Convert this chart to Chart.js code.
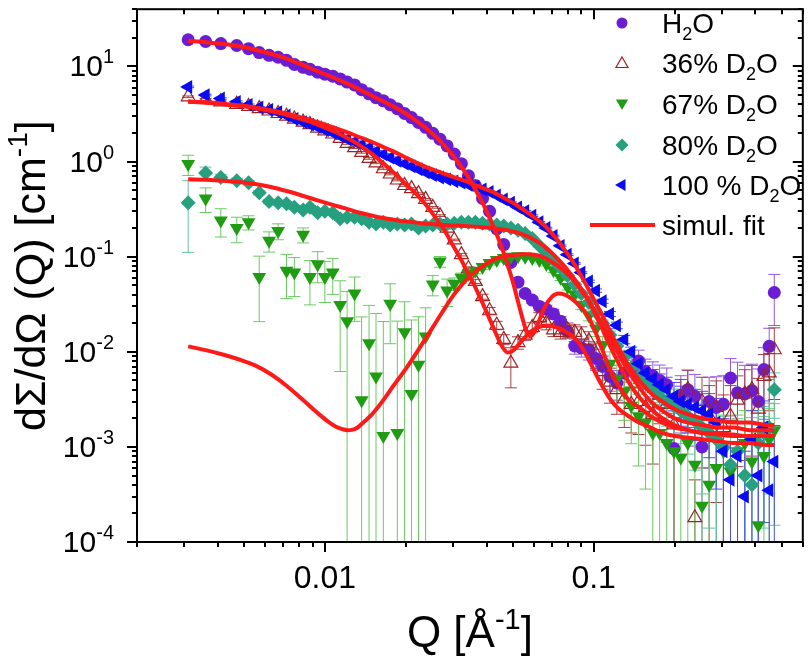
<!DOCTYPE html>
<html>
<head>
<meta charset="utf-8">
<script src="https://cdn.jsdelivr.net/npm/chart.js@4.4.1/dist/chart.umd.min.js"></script>
<style>
  html, body { margin: 0; padding: 0; background: #fff; }
  canvas { display: block; }
</style>
</head>
<body>
<canvas id="sansChart" width="812" height="659"></canvas>
<script>
// measured Q grid [1/A]
const qData = [0.0031, 0.0036, 0.0041, 0.0047, 0.0052, 0.0057, 0.0062, 0.0067, 0.0072, 0.0077,
  0.0083, 0.0088, 0.0094, 0.0100, 0.0107, 0.0114, 0.0121, 0.0129, 0.0137, 0.0146,
  0.0155, 0.0165, 0.0175, 0.0186, 0.0198, 0.0210, 0.0223, 0.0237, 0.0252, 0.0268,
  0.0285, 0.0303, 0.0322, 0.0342, 0.0363, 0.0386, 0.0410, 0.0436, 0.0463, 0.0492,
  0.0523, 0.0556, 0.0591, 0.0628, 0.0667, 0.0709, 0.0753, 0.0800, 0.085, 0.090,
  0.096, 0.102, 0.108, 0.115, 0.122, 0.130, 0.138, 0.147, 0.156, 0.166,
  0.176, 0.187, 0.199, 0.211, 0.224, 0.238, 0.253, 0.269, 0.286, 0.304,
  0.323, 0.343, 0.365, 0.388, 0.41, 0.43, 0.45, 0.47];

const h2o = [19.1, 18.3, 17.4, 16.6, 15.4, 14.0, 13.1, 12.5, 11.6, 10.5,
  9.8, 9.35, 8.7, 8.3, 7.9, 7.4, 6.85, 6.4, 5.7, 5.15,
  4.7, 4.35, 3.96, 3.6, 3.2, 2.9, 2.58, 2.29, 1.98, 1.72,
  1.46, 1.20, 0.95, 0.71, 0.56, 0.41, 0.30, 0.196, 0.134, 0.087,
  0.054, 0.041, 0.035, 0.030, 0.028, 0.025, 0.021, 0.0164, 0.0115, 0.0110,
  0.0105, 0.0085, 0.0070, 0.0055, 0.0047, 0.0060, 0.0065, 0.0080, 0.0062, 0.0056,
  0.0050, 0.0045, 0.00096, 0.0035, 0.0040, 0.0034, 0.0010, 0.0030, 0.0026, 0.0028,
  0.0053, 0.0037, 0.0036, 0.0039, 0.0030, 0.0065, 0.0114, 0.042];

const d2o36 = [4.8, 4.5, 4.25, 4.0, 3.8, 3.6, 3.4, 3.2, 3.0, 2.8,
  2.6, 2.45, 2.25, 2.1, 1.95, 1.75, 1.55, 1.40, 1.25, 1.08,
  0.97, 0.84, 0.74, 0.64, 0.56, 0.52, 0.46, 0.40, 0.33, 0.27,
  0.20, 0.15, 0.105, 0.075, 0.055, 0.038, 0.027, 0.019, 0.0135, 0.0076,
  0.0125, 0.0150, 0.018, 0.023, 0.020, 0.017, 0.016, 0.017, 0.016, 0.015,
  0.013, 0.0095, 0.0062, 0.0048, 0.0040, 0.0032, 0.0028, 0.0030, 0.0026, 0.0022,
  0.0035, 0.0028, 0.0017, 0.0032, 0.0040, 0.00018, 0.0030, 0.0021, 0.0026, 0.0016,
  0.0021, 0.0031, 0.0036, 0.0040, 0.0025, 0.0055, 0.0060, 0.0105];

const d2o67 = [0.94, 0.41, 0.24, 0.20, 0.23, 0.061, 0.147, 0.186, 0.071, 0.068,
  0.17, 0.061, 0.083, 0.061, 0.068, 0.031, 0.021, 0.041, 0.0031, 0.0123,
  0.0055, 0.0013, 0.032, 0.0014, 0.016, 0.0036, 0.0073, 0.0145, 0.051, 0.089,
  0.044, 0.052, 0.060, 0.066, 0.071, 0.078, 0.086, 0.092, 0.097, 0.100,
  0.101, 0.100, 0.097, 0.092, 0.084, 0.072, 0.060, 0.048, 0.040, 0.031,
  0.024, 0.0175, 0.0118, 0.0075, 0.0052, 0.0038, 0.0027, 0.0021, 0.0018, 0.0014,
  0.0014, 0.0011, 0.0009, 0.00077, 0.0011, 0.00065, 0.00024, 0.0004, 0.0006, 0.0009,
  0.00055, 0.0009, 0.0011, 0.0007, 0.00015, 0.0008, 0.0012, 0.0015];

const d2o80 = [0.37, 0.76, 0.68, 0.63, 0.60, 0.47, 0.38, 0.37, 0.36, 0.33,
  0.31, 0.33, 0.29, 0.30, 0.29, 0.25, 0.26, 0.26, 0.25, 0.23,
  0.22, 0.23, 0.215, 0.22, 0.215, 0.22, 0.20, 0.21, 0.215, 0.22,
  0.22, 0.225, 0.23, 0.23, 0.23, 0.225, 0.22, 0.215, 0.21, 0.20,
  0.19, 0.175, 0.155, 0.13, 0.11, 0.092, 0.077, 0.063, 0.051, 0.041,
  0.033, 0.026, 0.020, 0.015, 0.0115, 0.0088, 0.0068, 0.0055, 0.0046, 0.0040,
  0.0034, 0.0030, 0.0027, 0.0024, 0.0021, 0.0019, 0.0016, 0.0014, 0.0012, 0.0010,
  0.00065, 0.0009, 0.0005, 0.0004, 0.0011, 0.0014, 0.0016, 0.0040];

const d2o100 = [6.1, 5.0, 4.6, 4.25, 3.95, 3.7, 3.5, 3.3, 3.05, 2.8,
  2.6, 2.45, 2.3, 2.15, 2.0, 1.85, 1.72, 1.62, 1.50, 1.40,
  1.28, 1.19, 1.10, 1.02, 0.95, 0.89, 0.83, 0.77, 0.72, 0.68,
  0.65, 0.62, 0.60, 0.57, 0.54, 0.51, 0.48, 0.44, 0.40, 0.37,
  0.33, 0.30, 0.27, 0.23, 0.20, 0.165, 0.13, 0.105, 0.085, 0.068,
  0.055, 0.044, 0.034, 0.025, 0.019, 0.0135, 0.0100, 0.0075, 0.0060, 0.0052,
  0.0045, 0.0040, 0.0034, 0.0030, 0.0028, 0.0026, 0.0024, 0.0022, 0.0018, 0.0009,
  0.00045, 0.0008, 0.00030, 0.0012, 0.0005, 0.0016, 0.00035, 0.0007];

// relative error bars (fraction of value)
const h2oErr = [0.02, 0.02, 0.02, 0.02, 0.02, 0.02, 0.02, 0.02, 0.02, 0.02,
  0.02, 0.02, 0.02, 0.02, 0.02, 0.02, 0.02, 0.02, 0.02, 0.02,
  0.02, 0.02, 0.02, 0.02, 0.02, 0.02, 0.02, 0.02, 0.02, 0.02,
  0.02, 0.02, 0.02, 0.02, 0.02, 0.02, 0.02, 0.02, 0.02, 0.02,
  0.03, 0.06, 0.08, 0.10, 0.10, 0.12, 0.12, 0.15, 0.18, 0.20,
  0.22, 0.25, 0.28, 0.30, 0.35, 0.35, 0.35, 0.30, 0.35, 0.40,
  0.45, 0.50, 1.5, 0.6, 0.6, 0.7, 1.8, 0.8, 1.1, 1.0,
  0.6, 1.1, 1.0, 0.9, 1.2, 0.7, 0.55, 0.55];

const d2o36Err = [0.02, 0.02, 0.02, 0.02, 0.02, 0.02, 0.02, 0.02, 0.02, 0.02,
  0.02, 0.02, 0.02, 0.02, 0.02, 0.02, 0.02, 0.02, 0.02, 0.02,
  0.02, 0.02, 0.02, 0.02, 0.02, 0.02, 0.02, 0.02, 0.02, 0.02,
  0.02, 0.02, 0.03, 0.04, 0.05, 0.06, 0.08, 0.10, 0.12, 0.45,
  0.15, 0.12, 0.12, 0.12, 0.15, 0.15, 0.15, 0.18, 0.20, 0.22,
  0.25, 0.30, 0.35, 0.40, 0.45, 0.50, 0.50, 0.55, 0.60, 0.70,
  0.5, 0.6, 1.0, 0.6, 0.6, 1.5, 0.8, 1.1, 0.9, 1.2,
  1.1, 0.8, 0.8, 0.8, 1.1, 0.7, 0.6, 0.7];

const d2o67Err = [0.24, 0.29, 0.33, 0.30, 0.17, 0.66, 0.24, 0.19, 0.49, 0.44,
  0.18, 0.49, 0.36, 0.46, 0.41, 0.80, 1.05, 0.49, 6.5, 1.5,
  3.6, 15, 0.62, 14, 1.1, 5.0, 2.2, 1.0, 0.24, 0.13,
  0.32, 0.15, 0.12, 0.09, 0.07, 0.064, 0.05, 0.045, 0.04, 0.04,
  0.04, 0.04, 0.04, 0.045, 0.05, 0.055, 0.065, 0.07, 0.08, 0.1,
  0.12, 0.17, 0.22, 0.33, 0.4, 0.5, 0.6, 0.7, 0.8, 1.0,
  1.1, 1.3, 1.6, 1.9, 1.3, 2.1, 5.5, 3.2, 2.1, 1.4,
  2.4, 1.4, 1.2, 1.9, 8.5, 1.6, 1.1, 0.9];

const d2o80Err = [0.70, 0.15, 0.08, 0.06, 0.05, 0.05, 0.05, 0.05, 0.05, 0.05,
  0.04, 0.04, 0.04, 0.04, 0.04, 0.04, 0.04, 0.04, 0.04, 0.04,
  0.04, 0.04, 0.04, 0.04, 0.04, 0.04, 0.04, 0.04, 0.04, 0.04,
  0.04, 0.04, 0.04, 0.04, 0.04, 0.04, 0.04, 0.04, 0.04, 0.04,
  0.04, 0.04, 0.04, 0.04, 0.04, 0.04, 0.04, 0.04, 0.04, 0.04,
  0.05, 0.06, 0.08, 0.10, 0.12, 0.15, 0.20, 0.25, 0.30, 0.35,
  0.40, 0.45, 0.50, 0.55, 0.60, 0.70, 0.80, 0.90, 1.0, 1.1,
  1.5, 1.2, 1.6, 2.0, 1.2, 0.9, 0.8, 0.5];

const d2o100Err = [0.02, 0.02, 0.02, 0.02, 0.02, 0.02, 0.02, 0.02, 0.02, 0.02,
  0.02, 0.02, 0.02, 0.02, 0.02, 0.02, 0.02, 0.02, 0.02, 0.02,
  0.02, 0.02, 0.02, 0.02, 0.02, 0.02, 0.02, 0.02, 0.02, 0.02,
  0.02, 0.02, 0.02, 0.02, 0.02, 0.02, 0.02, 0.02, 0.02, 0.02,
  0.02, 0.02, 0.02, 0.02, 0.02, 0.02, 0.02, 0.02, 0.02, 0.02,
  0.03, 0.04, 0.05, 0.06, 0.08, 0.10, 0.12, 0.15, 0.20, 0.25,
  0.30, 0.35, 0.40, 0.45, 0.50, 0.55, 0.60, 0.65, 0.8, 1.2,
  1.5, 1.2, 2.0, 1.0, 1.6, 0.9, 2.0, 1.4];

// simultaneous fit curves
const qFit = [0.0031, 0.0036, 0.0042, 0.0048, 0.0055, 0.0063, 0.0072, 0.0082, 0.0094, 0.0107,
  0.0120, 0.0135, 0.0150, 0.0165, 0.0180, 0.020, 0.022, 0.024, 0.026, 0.028,
  0.030, 0.032, 0.034, 0.036, 0.038, 0.040, 0.042, 0.044, 0.046, 0.048,
  0.050, 0.052, 0.054, 0.056, 0.058, 0.060, 0.063, 0.066, 0.070, 0.074,
  0.078, 0.083, 0.088, 0.094, 0.100, 0.107, 0.115, 0.124, 0.135, 0.148,
  0.163, 0.180, 0.200, 0.225, 0.255, 0.29, 0.33, 0.38, 0.44, 0.47];

const fitH2o = [18.6, 18.0, 17.2, 16.3, 15.0, 13.6, 12.1, 10.5, 8.9, 7.7,
  6.7, 5.7, 4.9, 4.3, 3.8, 3.2, 2.65, 2.2, 1.8, 1.45,
  1.15, 0.90, 0.70, 0.53, 0.40, 0.30, 0.22, 0.16, 0.115, 0.08,
  0.055, 0.036, 0.024, 0.017, 0.0145, 0.016, 0.022, 0.030, 0.038, 0.041,
  0.040, 0.036, 0.031, 0.025, 0.018, 0.011, 0.0065, 0.0044, 0.0031, 0.0026,
  0.0021, 0.0018, 0.0016, 0.0015, 0.0014, 0.0014, 0.00135, 0.0013, 0.0013, 0.0013];

const fit36 = [4.25, 4.15, 4.0, 3.85, 3.65, 3.4, 3.1, 2.8, 2.45, 2.1,
  1.8, 1.48, 1.2, 0.96, 0.77, 0.58, 0.45, 0.34, 0.25, 0.185,
  0.13, 0.095, 0.068, 0.050, 0.036, 0.026, 0.019, 0.014, 0.0110, 0.0098,
  0.0102, 0.0115, 0.013, 0.0145, 0.016, 0.0172, 0.0183, 0.0188, 0.0185, 0.0177,
  0.0165, 0.0148, 0.0125, 0.0092, 0.0065, 0.0045, 0.0032, 0.0025, 0.0021, 0.0018,
  0.0016, 0.0014, 0.0013, 0.00125, 0.0012, 0.00115, 0.0011, 0.0011, 0.00105, 0.00105];

// the 67% fit has its own, finer grid around its minimum
const qFit67 = [0.0031, 0.0036, 0.0042, 0.0048, 0.0055, 0.0063, 0.0072, 0.0082, 0.0094, 0.0102,
  0.0110, 0.0116, 0.0121, 0.0126, 0.0132, 0.0140, 0.0150, 0.0165, 0.0180, 0.020,
  0.022, 0.024, 0.026, 0.028, 0.030, 0.032, 0.034, 0.036, 0.038, 0.040,
  0.042, 0.044, 0.046, 0.048, 0.050, 0.052, 0.054, 0.056, 0.058, 0.060,
  0.063, 0.066, 0.070, 0.074, 0.078, 0.083, 0.088, 0.094, 0.100, 0.107,
  0.115, 0.124, 0.135, 0.148, 0.163, 0.180, 0.200, 0.225, 0.255, 0.29,
  0.33, 0.38, 0.44, 0.47];

const fit67 = [0.0114, 0.0104, 0.0093, 0.0083, 0.0072, 0.0058, 0.0044, 0.0032, 0.00227, 0.00188,
  0.00163, 0.00154, 0.00150, 0.00151, 0.00159, 0.00184, 0.00221, 0.0031, 0.0044, 0.0066,
  0.0099, 0.0146, 0.0208, 0.029, 0.039, 0.049, 0.059, 0.069, 0.077, 0.085,
  0.092, 0.097, 0.101, 0.103, 0.104, 0.105, 0.106, 0.106, 0.106, 0.105,
  0.102, 0.097, 0.088, 0.079, 0.070, 0.059, 0.048, 0.037, 0.027, 0.018,
  0.0115, 0.0075, 0.0048, 0.0033, 0.0025, 0.0020, 0.0017, 0.0015, 0.0014, 0.00135,
  0.0013, 0.0013, 0.0013, 0.0013];

const fit80 = [0.65, 0.645, 0.63, 0.61, 0.58, 0.54, 0.49, 0.44, 0.39, 0.35,
  0.32, 0.29, 0.27, 0.255, 0.245, 0.235, 0.228, 0.222, 0.218, 0.215,
  0.213, 0.211, 0.209, 0.207, 0.205, 0.203, 0.200, 0.197, 0.193, 0.189,
  0.184, 0.179, 0.173, 0.166, 0.159, 0.151, 0.139, 0.126, 0.109, 0.093,
  0.079, 0.063, 0.050, 0.038, 0.028, 0.020, 0.0138, 0.0094, 0.0062, 0.0042,
  0.0030, 0.0024, 0.0020, 0.0018, 0.0017, 0.0016, 0.0016, 0.0015, 0.0015, 0.0015];

const fit100 = [4.3, 4.2, 4.05, 3.9, 3.7, 3.45, 3.2, 2.9, 2.6, 2.3,
  2.05, 1.8, 1.6, 1.42, 1.28, 1.10, 0.97, 0.87, 0.80, 0.74,
  0.69, 0.65, 0.61, 0.57, 0.54, 0.51, 0.48, 0.45, 0.42, 0.395,
  0.37, 0.345, 0.32, 0.30, 0.28, 0.26, 0.235, 0.21, 0.175, 0.145,
  0.118, 0.092, 0.070, 0.050, 0.036, 0.025, 0.0165, 0.011, 0.0072, 0.0050,
  0.0037, 0.0030, 0.0025, 0.0022, 0.0020, 0.0019, 0.0018, 0.0018, 0.0017, 0.0017];

const xLabelValues = [0.01, 0.1];
const xLabels = ['0.01', '0.1'];
const yExponents = [-4, -3, -2, -1, 0, 1];
const legendNames = ['H_2O', '36% D_2O', '67% D_2O', '80% D_2O', '100 % D_2O', 'simul. fit'];

const FONT = '"Liberation Sans", Arial, Helvetica, sans-serif';
const RED = '#ff1a1a';

const series = [
  { y: h2o, err: h2oErr, color: '#6b1dd3', bar: '#915ae2', style: 'circle', rot: 0, r: 6.5, open: false },
  { y: d2o36, err: d2o36Err, color: '#9c2323', bar: '#a84141', style: 'triangle', rot: 0, r: 8, open: true },
  { y: d2o67, err: d2o67Err, color: '#1f9c12', bar: '#6acb61', style: 'triangle', rot: 180, r: 8, open: false },
  { y: d2o80, err: d2o80Err, color: '#27a07f', bar: '#66c0a6', style: 'rectRot', rot: 0, r: 7.5, open: false },
  { y: d2o100, err: d2o100Err, color: '#0b0bf2', bar: '#4b4bf2', style: 'triangle', rot: 270, r: 8, open: false }
];
const fits = [[qFit, fitH2o], [qFit, fit36], [qFit67, fit67], [qFit, fit80], [qFit, fit100]];

function pts(xs, ys) {
  return xs.map((x, i) => ({ x: x, y: ys[i] }));
}

const datasets = [];
fits.forEach(f => {
  datasets.push({
    data: pts(f[0], f[1]),
    showLine: true,
    pointRadius: 0,
    borderColor: RED,
    borderWidth: 4,
    cubicInterpolationMode: 'monotone',
    order: 0
  });
});
series.forEach((s, i) => {
  datasets.push({
    data: pts(qData, s.y),
    relErr: s.err,
    barColor: s.bar,
    showLine: false,
    pointStyle: s.style,
    rotation: s.rot,
    pointRadius: s.r,
    backgroundColor: s.open ? 'rgba(255,255,255,0)' : s.color,
    borderColor: s.color,
    borderWidth: s.open ? 1.2 : 0,
    order: 5 - i
  });
});

// error bars below the markers
const errorBars = {
  id: 'errorBars',
  beforeDatasetsDraw(chart) {
    const ctx = chart.ctx, a = chart.chartArea;
    const xs = chart.scales.x, ys = chart.scales.y;
    ctx.save();
    ctx.beginPath();
    ctx.rect(a.left, a.top, a.right - a.left, a.bottom - a.top);
    ctx.clip();
    ctx.lineWidth = 1;
    chart.data.datasets.forEach(ds => {
      if (!ds.relErr) return;
      ctx.strokeStyle = ds.barColor;
      ctx.beginPath();
      ds.data.forEach((p, i) => {
        const e = p.y * ds.relErr[i];
        const px = xs.getPixelForValue(p.x);
        const top = ys.getPixelForValue(p.y + e);
        const lowVal = p.y - e;
        const bot = lowVal > ys.min ? ys.getPixelForValue(lowVal) : a.bottom + 5;
        ctx.moveTo(px, top);
        ctx.lineTo(px, bot);
        ctx.moveTo(px - 6, top);
        ctx.lineTo(px + 6, top);
        if (lowVal > ys.min) {
          ctx.moveTo(px - 6, bot);
          ctx.lineTo(px + 6, bot);
        }
      });
      ctx.stroke();
    });
    ctx.restore();
  }
};

function richText(ctx, parts, x, y, align) {
  let w = 0;
  parts.forEach(p => {
    ctx.font = p.size + 'px ' + FONT;
    p.w = ctx.measureText(p.t).width;
    w += p.w;
  });
  let cx = align === 'right' ? x - w : (align === 'center' ? x - w / 2 : x);
  ctx.textAlign = 'left';
  ctx.textBaseline = 'alphabetic';
  parts.forEach(p => {
    ctx.font = p.size + 'px ' + FONT;
    ctx.fillText(p.t, cx, y + (p.dy || 0));
    cx += p.w;
  });
}

function splitSub(label, size) {
  const parts = [];
  const bits = label.split('_');
  parts.push({ t: bits[0], size: size });
  for (let i = 1; i < bits.length; i++) {
    parts.push({ t: bits[i].charAt(0), size: Math.round(size * 0.66), dy: 7 });
    parts.push({ t: bits[i].slice(1), size: size });
  }
  return parts;
}

function triPath(ctx, x, y, r, deg) {
  let rad = deg * Math.PI / 180;
  ctx.beginPath();
  for (let k = 0; k < 3; k++) {
    const px = x + Math.sin(rad) * r, py = y - Math.cos(rad) * r;
    if (k === 0) ctx.moveTo(px, py); else ctx.lineTo(px, py);
    rad += 2 * Math.PI / 3;
  }
  ctx.closePath();
}

function isDecade(v) {
  const l = Math.log10(v);
  return Math.abs(l - Math.round(l)) < 1e-6;
}

const axesDecor = {
  id: 'axesDecor',
  afterDraw(chart) {
    const ctx = chart.ctx, a = chart.chartArea;
    const xs = chart.scales.x, ys = chart.scales.y;
    ctx.save();
    ctx.strokeStyle = '#000';
    ctx.fillStyle = '#000';
    ctx.lineWidth = 2;
    ctx.strokeRect(a.left, a.top, a.right - a.left, a.bottom - a.top);

    const xTicks = [], yTicks = [];
    for (let e = -3; e <= -1; e++) {
      for (let m = 1; m <= 9; m++) {
        const v = Number((m * Math.pow(10, e)).toPrecision(3));
        if (v >= xs.min && v <= xs.max) xTicks.push(v);
      }
    }
    for (let e = -4; e <= 1; e++) {
      for (let m = 1; m <= 9; m++) {
        const v = Number((m * Math.pow(10, e)).toPrecision(3));
        if (v >= ys.min && v <= ys.max) yTicks.push(v);
      }
    }
    ctx.beginPath();
    xTicks.forEach(t => {
      const px = Math.round(xs.getPixelForValue(t));
      const len = isDecade(t) ? 10 : 5;
      ctx.moveTo(px, a.bottom); ctx.lineTo(px, a.bottom + len);
      ctx.moveTo(px, a.top); ctx.lineTo(px, a.top + len);
    });
    yTicks.forEach(t => {
      const py = Math.round(ys.getPixelForValue(t));
      const len = isDecade(t) ? 10 : 5;
      ctx.moveTo(a.left - len, py); ctx.lineTo(a.left, py);
      ctx.moveTo(a.right - len, py); ctx.lineTo(a.right, py);
    });
    ctx.stroke();

    // tick labels
    xLabelValues.forEach((v, i) => {
      richText(ctx, [{ t: xLabels[i], size: 32 }], xs.getPixelForValue(v), a.bottom + 46, 'center');
    });
    yExponents.forEach(e => {
      const py = ys.getPixelForValue(Math.pow(10, e));
      richText(ctx, [{ t: '10', size: 30 }, { t: String(e), size: 20, dy: -13 }], 114, py + 10, 'right');
    });

    // axis titles
    richText(ctx, [{ t: 'Q [\u00c5', size: 44 }, { t: '-1', size: 29, dy: -18 }, { t: ']', size: 44 }],
      (a.left + a.right) / 2, 647, 'center');
    ctx.save();
    ctx.translate(45, (a.top + a.bottom) / 2);
    ctx.rotate(-Math.PI / 2);
    richText(ctx, [{ t: 'd\u03a3/d\u03a9 (Q) [cm', size: 43 }, { t: '-1', size: 28, dy: -18 }, { t: ']', size: 43 }],
      0, 0, 'center');
    ctx.restore();

    // legend
    const lx = 622, tx = 662;
    const rows = [23, 63, 104, 145, 185, 225];
    series.forEach((s, i) => {
      const y = rows[i];
      ctx.fillStyle = s.color;
      ctx.strokeStyle = s.color;
      if (s.style === 'circle') {
        ctx.beginPath(); ctx.arc(lx, y, 5.5, 0, 2 * Math.PI); ctx.fill();
      } else if (s.style === 'rectRot') {
        ctx.beginPath();
        ctx.moveTo(lx, y - 6.5); ctx.lineTo(lx + 6.5, y); ctx.lineTo(lx, y + 6.5); ctx.lineTo(lx - 6.5, y);
        ctx.closePath(); ctx.fill();
      } else {
        triPath(ctx, lx, y + (s.rot === 0 ? 1 : s.rot === 180 ? -1 : 0), 7, s.rot);
        if (s.open) { ctx.lineWidth = 1.2; ctx.stroke(); } else ctx.fill();
      }
      ctx.fillStyle = '#000';
      richText(ctx, splitSub(legendNames[i], 28), tx, y + 10, 'left');
    });
    ctx.strokeStyle = RED;
    ctx.lineWidth = 4;
    ctx.beginPath();
    ctx.moveTo(590, rows[5]); ctx.lineTo(655, rows[5]);
    ctx.stroke();
    ctx.fillStyle = '#000';
    richText(ctx, splitSub(legendNames[5], 28), tx, rows[5] + 10, 'left');
    ctx.restore();
  }
};

new Chart(document.getElementById('sansChart'), {
  type: 'scatter',
  data: { datasets: datasets },
  options: {
    responsive: false,
    animation: false,
    devicePixelRatio: 1,
    events: [],
    layout: { padding: { top: 1, right: 3, left: 0, bottom: 0 } },
    plugins: { legend: { display: false }, tooltip: { enabled: false } },
    scales: {
      x: {
        type: 'logarithmic', min: 0.002, max: 0.6,
        grid: { display: false }, border: { display: false },
        ticks: { display: false },
        afterFit(s) { s.height = 117; }
      },
      y: {
        type: 'logarithmic', min: 1e-4, max: 40,
        grid: { display: false }, border: { display: false },
        ticks: { display: false },
        afterFit(s) { s.width = 137; }
      }
    }
  },
  plugins: [errorBars, axesDecor]
});
</script>
</body>
</html>
